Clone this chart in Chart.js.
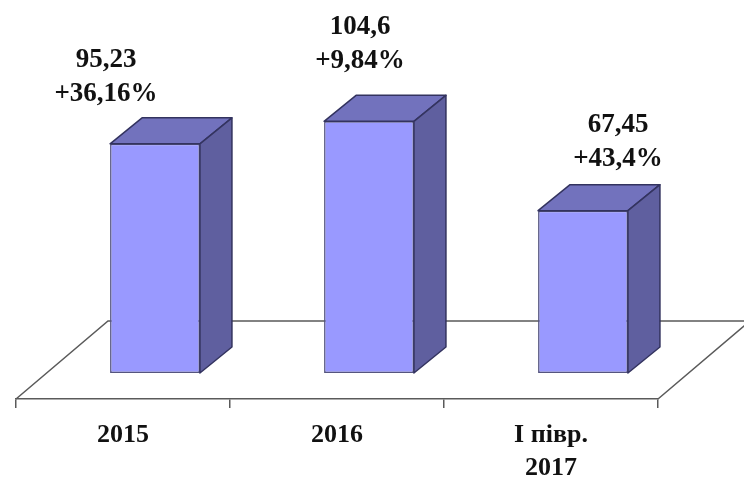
<!DOCTYPE html>
<html>
<head>
<meta charset="utf-8">
<title>Chart</title>
<script src="https://cdn.jsdelivr.net/npm/chart.js@4"></script>
<style>
html, body { margin: 0; padding: 0; background: #ffffff; }
canvas { display: block; }
</style>
</head>
<body>
<canvas id="chart" width="744" height="477"></canvas>
<script>
const categories = [["2015"], ["2016"], ["І півр.", "2017"]];
const values = [95.23, 104.6, 67.45];
const valueLabels = ["95,23", "104,6", "67,45"];
const changeLabels = ["+36,16%", "+9,84%", "+43,4%"];

// hand placed in the original, so label offsets from category centre and bar top
const labelShiftX = [-17, 23, 67];
const labelShiftY = [-50, -60, -52];

const serif = '"Liberation Serif", "Times New Roman", serif';
const barDepth = { x: 32, y: 26 };
const floorDepth = { x: 92, y: 78 };
const lineColor = "#5a5a5a";
const edgeColor = "#33335f";

const pseudo3d = {
    id: "pseudo3d",
    beforeDatasetsDraw(chart) {
        const ctx = chart.ctx;
        const area = chart.chartArea;

        // floor outline, behind the bars
        ctx.save();
        ctx.strokeStyle = lineColor;
        ctx.lineWidth = 1.5;
        ctx.beginPath();
        ctx.moveTo(area.left, area.bottom);
        ctx.lineTo(area.left + floorDepth.x, area.bottom - floorDepth.y);
        ctx.lineTo(chart.width, area.bottom - floorDepth.y);
        ctx.moveTo(area.right, area.bottom);
        ctx.lineTo(area.right + floorDepth.x, area.bottom - floorDepth.y);
        ctx.stroke();
        ctx.restore();

        // bars stand in the middle of the floor
        ctx.save();
        ctx.translate(barDepth.x, -barDepth.y);
    },
    afterDatasetsDraw(chart) {
        const ctx = chart.ctx;
        const bars = chart.getDatasetMeta(0).data;

        ctx.lineWidth = 1.5;
        ctx.strokeStyle = edgeColor;
        ctx.lineJoin = "round";
        bars.forEach(function (bar) {
            const left = bar.x - bar.width / 2;
            const right = bar.x + bar.width / 2;

            ctx.fillStyle = "#7272bd";
            ctx.beginPath();
            ctx.moveTo(left, bar.y);
            ctx.lineTo(left + barDepth.x, bar.y - barDepth.y);
            ctx.lineTo(right + barDepth.x, bar.y - barDepth.y);
            ctx.lineTo(right, bar.y);
            ctx.closePath();
            ctx.fill();
            ctx.stroke();

            ctx.fillStyle = "#5f5f9f";
            ctx.beginPath();
            ctx.moveTo(right, bar.y);
            ctx.lineTo(right + barDepth.x, bar.y - barDepth.y);
            ctx.lineTo(right + barDepth.x, bar.base - barDepth.y);
            ctx.lineTo(right, bar.base);
            ctx.closePath();
            ctx.fill();
            ctx.stroke();
        });
        ctx.restore();

        ctx.save();
        ctx.fillStyle = "#111111";
        ctx.font = "bold 27px " + serif;
        ctx.textAlign = "center";
        ctx.textBaseline = "middle";
        bars.forEach(function (bar, i) {
            const x = chart.scales.x.getPixelForValue(i) + labelShiftX[i];
            const y = bar.y - barDepth.y + labelShiftY[i];
            ctx.fillText(changeLabels[i], x, y);
            ctx.fillText(valueLabels[i], x, y - 34);
        });
        ctx.restore();
    }
};

new Chart(document.getElementById("chart").getContext("2d"), {
    type: "bar",
    data: {
        labels: categories,
        datasets: [{
            data: values,
            backgroundColor: "#9999ff",
            borderColor: "#55557f",
            borderWidth: 1.5,
            borderSkipped: false,
            barPercentage: 0.42,
            categoryPercentage: 1
        }]
    },
    options: {
        responsive: false,
        animation: false,
        layout: { padding: { top: 14, left: 16, right: 86, bottom: 0 } },
        plugins: { legend: { display: false }, tooltip: { enabled: false } },
        scales: {
            x: {
                afterFit(scale) { scale.height = 78; },
                border: { color: lineColor, width: 1.5 },
                grid: { drawOnChartArea: false, color: lineColor, lineWidth: 1.5, tickLength: 9 },
                ticks: {
                    color: "#111111",
                    padding: 10,
                    maxRotation: 0,
                    autoSkip: false,
                    font: { family: serif, size: 26, weight: "bold", lineHeight: 1.3 }
                }
            },
            y: { display: false, min: 0, max: 160 }
        }
    },
    plugins: [pseudo3d]
});
</script>
</body>
</html>
